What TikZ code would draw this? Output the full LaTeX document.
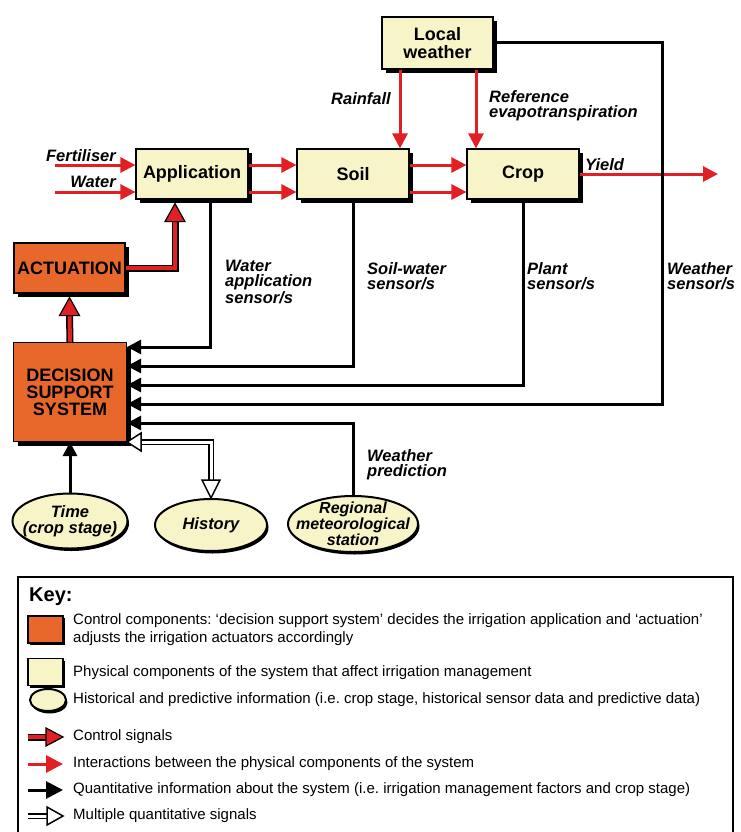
\documentclass[tikz,border=0pt]{standalone}
\usepackage{fontspec}
\setmainfont{Liberation Sans}
\usetikzlibrary{arrows.meta,shadows,shapes.geometric}
\frenchspacing
\definecolor{boxyellow}{RGB}{247,245,200}
\definecolor{ctrlorange}{RGB}{232,104,44}
\definecolor{flowred}{RGB}{226,32,36}
\tikzset{
  physbox/.style={draw, line width=1.2pt, fill=boxyellow, minimum width=112pt, minimum height=50pt,
    inner sep=0pt, align=center, font=\bfseries\fontsize{18}{17.5}\selectfont,
    drop shadow={shadow xshift=4pt, shadow yshift=-4pt, opacity=1, fill=black}},
  ctrlbox/.style={physbox, fill=ctrlorange},
  infoell/.style={ellipse, draw, line width=2pt, fill=boxyellow, inner sep=0pt,
    drop shadow={shadow xshift=1.5pt, shadow yshift=-2.5pt, opacity=1, fill=black}},
  elltxt/.style={inner sep=0pt, align=center, font=\bfseries\itshape\fontsize{16.5}{15.5}\selectfont},
  lbl/.style={inner sep=0pt, align=left, font=\bfseries\itshape\fontsize{16.5}{15}\selectfont},
  redarr/.style={flowred, line width=3pt, -{Triangle[length=15pt,width=15pt]}},
  sigarr/.style={line width=3pt, -{Triangle[length=14pt,width=14pt]}},
  ctrlline/.style={double=flowred, double distance=4pt, line width=1.5pt},
  multiline/.style={double=white, double distance=3pt, line width=1.5pt},
  redhead/.style={fill=flowred, line width=1.2pt, line join=miter},
  whitehead/.style={fill=white, line width=1.5pt, line join=miter},
  keybox/.style={draw, line width=1.5pt, minimum width=35pt, minimum height=27pt, inner sep=0pt,
    drop shadow={shadow xshift=2pt, shadow yshift=-2pt, opacity=1, fill=black}},
  keytxt/.style={anchor=west, inner sep=0pt, align=left, font=\fontsize{15}{18}\selectfont},
}
\begin{document}
\begin{tikzpicture}[x=1pt,y=-1pt]
\useasboundingbox (0,0) rectangle (740,832);

% physical components
\node[physbox, minimum width=111pt, minimum height=52pt] (lw) at (437.5,43) {Local\\weather};
\node[physbox] (app) at (192,174) {Application};
\node[physbox] (soil) at (353,174) {Soil};
\node[physbox] (crop) at (523,174) {Crop};

% control components
\node[ctrlbox, minimum width=111pt] (act) at (69.5,268) {ACTUATION};
\node[ctrlbox, minimum width=113pt, minimum height=99pt, font=\bfseries\fontsize{18}{17}\selectfont] (dss) at (70,392) {DECISION\\SUPPORT\\SYSTEM};

% historical and predictive information
\node[infoell, minimum width=115pt, minimum height=55pt] (time) at (70,521) {};
\node[elltxt] (timetxt) at (time) {Time\\(crop stage)};
\node[infoell, minimum width=112pt, minimum height=52pt] (hist) at (211,525) {};
\node[elltxt] (histtxt) at (hist) {History};
\node[infoell, minimum width=130pt, minimum height=56pt] (reg) at (353,524) {};
\node[elltxt, font=\bfseries\itshape\fontsize{16}{13}\selectfont] (regtxt) at (reg) {Regional\\meteorological\\station};

% interactions
\coordinate (fert) at (55,165);
\coordinate (wat) at (55,192);
\draw[redarr] (fert) -- (fert -| app.west);
\draw[redarr] (wat) -- (wat -| app.west);
\draw[redarr] (fert -| app.east) -- (fert -| soil.west);
\draw[redarr] (wat -| app.east) -- (wat -| soil.west);
\draw[redarr] (fert -| soil.east) -- (fert -| crop.west);
\draw[redarr] (wat -| soil.east) -- (wat -| crop.west);
\coordinate (yieldend) at (718,174);
\draw[redarr] (crop.east) -- (yieldend);
\coordinate (rainx) at (400,0);
\coordinate (etx) at (476,0);
\draw[redarr] (lw.south -| rainx) -- (soil.north -| rainx);
\draw[redarr] (lw.south -| etx) -- (crop.north -| etx);
\node[lbl, anchor=east] (fertlbl) at (116,156) {Fertiliser};
\node[lbl, anchor=east] (watlbl) at (116,182) {Water};
\node[lbl, anchor=base west] (yieldlbl) at (585,170) {Yield};
\node[lbl, anchor=east] (rainlbl) at (391,99) {Rainfall};
\node[lbl, anchor=west] (etlbl) at (489,106) {Reference\\evapotranspiration};

% quantitative information
\coordinate (wsx) at (662,0);
\draw[sigarr] ([xshift=18pt]app.south) |- ([yshift=45pt]dss.east);
\draw[sigarr] (soil.south) |- ([yshift=26pt]dss.east);
\draw[sigarr] (crop.south) |- ([yshift=7pt]dss.east);
\draw[sigarr] (lw.east) -- (lw.east -| wsx) |- ([yshift=-12pt]dss.east);
\draw[sigarr] (reg.north) |- ([yshift=-31pt]dss.east);
\draw[sigarr] (time.north) -- (dss.south);
\node[lbl, anchor=west] (walbl) at (225,282) {Water\\application\\sensor/s};
\node[lbl, anchor=west] (swlbl) at (367,276) {Soil-water\\sensor/s};
\node[lbl, anchor=west] (plbl) at (527,276) {Plant\\sensor/s};
\node[lbl, anchor=west] (wslbl) at (667,276) {Weather\\sensor/s};
\node[lbl, anchor=west] (wplbl) at (367,465) {Weather\\prediction};

% multiple signals
\draw[multiline] ([xshift=14pt,yshift=-50pt]dss.east) -| ([yshift=18pt]hist.north);
\filldraw[whitehead] ([yshift=-50pt]dss.east) -- ++(14,-9) -- ++(0,18) -- cycle;
\filldraw[whitehead] (hist.north) -- ++(-9,-18) -- ++(18,0) -- cycle;

% control signals
\draw[ctrlline] (dss.north) -- ([yshift=-22pt]act.south);
\filldraw[redhead] ([yshift=-4pt]act.south) -- ++(-10,18) -- ++(20,0) -- cycle;
\draw[ctrlline] (act.east) -| ([xshift=-17pt,yshift=-22pt]app.south);
\filldraw[redhead] ([xshift=-17pt,yshift=-4pt]app.south) -- ++(-10,18) -- ++(20,0) -- cycle;

% key
\draw[line width=2.5pt] (18,832) -- (18,577) -- (733,577) -- (733,832);
\node[anchor=west, inner sep=0pt, font=\bfseries\fontsize{20}{20}\selectfont] (keyttl) at (29,597) {Key:};
\node[keybox, fill=ctrlorange] (keyctrl) at (45.5,629.5) {};
\node[keytxt] (keyctrltxt) at (73,630) {Control components: ‘decision support system’ decides the irrigation application and ‘actuation’\\adjusts the irrigation actuators accordingly};
\node[keybox, fill=boxyellow] (keyphys) at (45.5,672) {};
\node[keytxt] (keyphystxt) at (73,673) {Physical components of the system that affect irrigation management};
\node[infoell, minimum width=36pt, minimum height=22pt] (keyinfo) at (48,700) {};
\node[keytxt] (keyinfotxt) at (73,700) {Historical and predictive information (i.e. crop stage, historical sensor data and predictive data)};
\coordinate (kca) at (28,737);
\coordinate (kcb) at (63,737);
\draw[ctrlline] (kca) -- ([xshift=-17pt]kcb);
\filldraw[redhead] (kcb) -- ++(-17,-9) -- ++(0,18) -- cycle;
\node[keytxt] (kctxt) at (73,737) {Control signals};
\coordinate (kra) at (28,764);
\coordinate (krb) at (63,764);
\draw[redarr, -{Triangle[length=17pt,width=17pt]}] (kra) -- (krb);
\node[keytxt] (krtxt) at (73,764) {Interactions between the physical components of the system};
\coordinate (kba) at (28,790);
\coordinate (kbb) at (63,790);
\draw[sigarr, -{Triangle[length=17pt,width=17pt]}] (kba) -- (kbb);
\node[keytxt] (kbtxt) at (73,790) {Quantitative information about the system (i.e. irrigation management factors and crop stage)};
\coordinate (kwa) at (28,816);
\coordinate (kwb) at (63,816);
\draw[multiline] (kwa) -- ([xshift=-16pt]kwb);
\filldraw[whitehead] (kwb) -- ++(-16,-9) -- ++(0,18) -- cycle;
\node[keytxt] (kwtxt) at (73,816) {Multiple quantitative signals};
\end{tikzpicture}
\end{document}
